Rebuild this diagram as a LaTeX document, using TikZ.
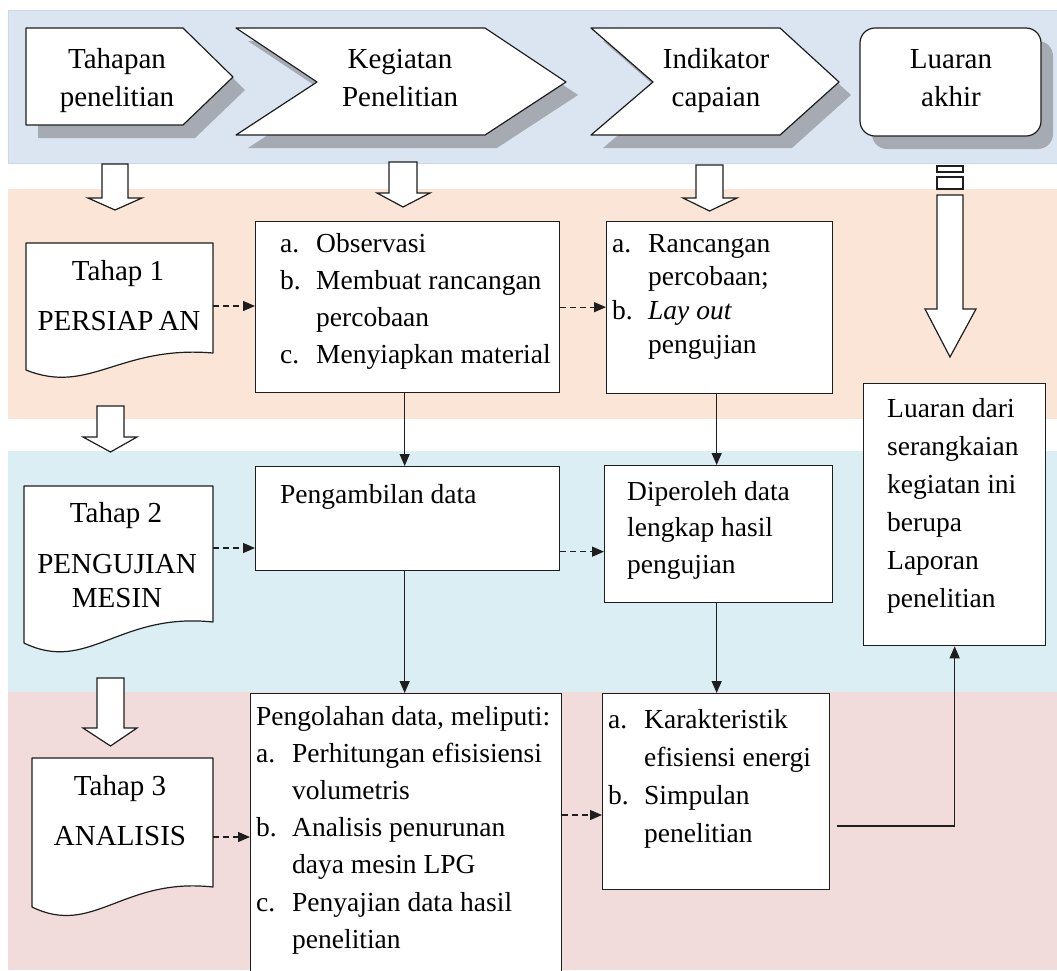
\documentclass[tikz,border=0pt]{standalone}
\usepackage{fontspec}
\setmainfont{LiberationSerif-Regular.ttf}[ItalicFont=LiberationSerif-Italic.ttf, BoldFont=LiberationSerif-Bold.ttf]
\usetikzlibrary{arrows.meta}
\definecolor{hdrband}{RGB}{219,229,241}
\definecolor{hdrline}{RGB}{200,216,238}
\definecolor{peach}{RGB}{251,229,214}
\definecolor{lblue}{RGB}{218,238,243}
\definecolor{pinkband}{RGB}{242,220,219}
\definecolor{shadowc}{RGB}{166,170,178}
\definecolor{ink}{RGB}{30,30,30}
\newcommand\itm[1]{\makebox[36pt][l]{#1}}
\newcommand\bodyfont[1]{\fontsize{27.5}{#1}\selectfont}
\newcommand\headfont[1]{\fontsize{29}{#1}\selectfont}
\begin{document}
\begin{tikzpicture}[x=1pt,y=-1pt,
  shp/.style={draw=ink, line width=1.2pt, fill=white, line join=round},
  shd/.style={fill=shadowc, draw=none},
  box/.style={draw=ink, line width=1.3pt, fill=white, rectangle, inner sep=0pt, anchor=north west},
  txt/.style={inner sep=0pt, text=black},
  arr/.style={draw=ink, line width=1.3pt, -{Triangle[length=12pt,width=10pt]}},
  darr/.style={arr, dash pattern=on 6pt off 4pt},
  blk/.style={draw=ink, line width=1.2pt, fill=white, line join=miter}
]
\fill[white] (0,0) rectangle (1057,970);
\useasboundingbox (0,0) rectangle (1057,970);
\clip (0,0) rectangle (1057,970);
% bands
\fill[hdrband] (8,10) rectangle (1057,163);
\draw[hdrline, line width=1pt] (8,10) rectangle (1062,163);
\fill[peach] (8,189) rectangle (1057,419);
\fill[lblue] (8,451) rectangle (1057,692);
\fill[pinkband] (8,692) rectangle (1057,970);
% header shadows
\begin{scope}[shift={(12,13)}]
\fill[shd] (26,28) -- (183,28) -- (233,77) -- (183,125) -- (26,125) -- cycle;
\fill[shd] (236,28) -- (485,28) -- (566,82) -- (485,135) -- (236,135) -- (317,82) -- cycle;
\fill[shd] (591,28) -- (780,28) -- (839,82) -- (780,135) -- (591,135) -- (653,82) -- cycle;
\fill[shd, rounded corners=15pt] (860,28) rectangle (1041,136);
\end{scope}
% header shapes
\draw[shp] (26,28) -- (183,28) -- (233,77) -- (183,125) -- (26,125) -- cycle;
\draw[shp] (236,28) -- (485,28) -- (566,82) -- (485,135) -- (236,135) -- (317,82) -- cycle;
\draw[shp] (591,28) -- (780,28) -- (839,82) -- (780,135) -- (591,135) -- (653,82) -- cycle;
\draw[shp, rounded corners=15pt] (860,28) rectangle (1041,136);
\node[txt, anchor=base] (H1) at (117,68) {\headfont{38}\begin{tabular}[t]{@{}c@{}}Tahapan\\penelitian\end{tabular}};
\node[txt, anchor=base] (H2) at (400,68) {\headfont{38}\begin{tabular}[t]{@{}c@{}}Kegiatan\\Penelitian\end{tabular}};
\node[txt, anchor=base] (H3) at (716,68) {\headfont{38}\begin{tabular}[t]{@{}c@{}}Indikator\\capaian\end{tabular}};
\node[txt, anchor=base] (H4) at (951,68) {\headfont{38}\begin{tabular}[t]{@{}c@{}}Luaran\\akhir\end{tabular}};
% block arrows
\draw[blk] (102,164) -- (128,164) -- (128,198) -- (142,198) -- (115,210) -- (88,198) -- (102,198) -- cycle;
\draw[blk] (389,162) -- (417,162) -- (417,193) -- (430,193) -- (403,207) -- (377,193) -- (389,193) -- cycle;
\draw[blk] (696,165) -- (723,165) -- (723,198) -- (737,198) -- (709.5,211) -- (683,198) -- (696,198) -- cycle;
\draw[blk] (97,406) -- (124,406) -- (124,437) -- (137,437) -- (110.5,452) -- (83,437) -- (97,437) -- cycle;
\draw[blk] (97,678) -- (124,678) -- (124,728) -- (137,728) -- (110.5,746) -- (83,728) -- (97,728) -- cycle;
\draw[blk] (937,166) rectangle (963,172);
\draw[blk] (937,177) rectangle (963,189);
\draw[blk] (937,195) -- (963,195) -- (963,309) -- (976,309) -- (950,357) -- (925,309) -- (937,309) -- cycle;
% document shapes (Tahap)
\draw[shp] (26,243) -- (213,243) -- (213,353) .. controls (119.5,345) and (89.6,395.5) .. (26,370) -- cycle;
\draw[shp] (24,486) -- (213,486) -- (213,622) .. controls (118.5,612) and (88,674) .. (24,643) -- cycle;
\draw[shp] (32,758) -- (213,758) -- (213,887) .. controls (122.5,877) and (93.5,937) .. (32,907) -- cycle;
\node[txt, anchor=base] (T1a) at (118,280) {\headfont{34}Tahap 1};
\node[txt, anchor=base] (T1b) at (119,330) {\headfont{34}PERSIAP\kern5pt AN};
\node[txt, anchor=base] (T2a) at (116,522) {\headfont{34}Tahap 2};
\node[txt, anchor=base] (T2b) at (117,573) {\headfont{34}\begin{tabular}[t]{@{}c@{}}PENGUJIAN\\MESIN\end{tabular}};
\node[txt, anchor=base] (T3a) at (120,795) {\headfont{34}Tahap 3};
\node[txt, anchor=base] (T3b) at (120,845) {\headfont{34}ANALISIS};
\coordinate (T1e) at (213,306);
\coordinate (T2e) at (213,548);
\coordinate (T3e) at (213,837);
% middle boxes
\node[box, minimum width=304pt, minimum height=171pt] (K1) at (255,221) {};
\node[box, minimum width=304pt, minimum height=104pt] (K2) at (255,466) {};
\node[box, minimum width=311pt, minimum height=300pt] (K3) at (250,693) {};
\node[txt, anchor=base west] (K1t) at (280,252) {\bodyfont{37}\begin{tabular}[t]{@{}l@{}}\itm{a.}Observasi\\\itm{b.}Membuat rancangan\\\itm{}percobaan\\\itm{c.}Menyiapkan material\end{tabular}};
\node[txt, anchor=base west] (K2t) at (280,503) {\bodyfont{37}Pengambilan data};
\node[txt, anchor=base west] (K3t) at (256,725) {\bodyfont{37.2}\begin{tabular}[t]{@{}l@{}}Pengolahan data, meliputi:\\\itm{a.}Perhitungan efisisiensi\\\itm{}volumetris\\\itm{b.}Analisis penurunan\\\itm{}daya mesin LPG\\\itm{c.}Penyajian data hasil\\\itm{}penelitian\end{tabular}};
% indicator boxes
\node[box, minimum width=226pt, minimum height=172pt] (I1) at (606,221) {};
\node[box, minimum width=228pt, minimum height=137pt] (I2) at (604,465) {};
\node[box, minimum width=227pt, minimum height=196pt] (I3) at (602,693) {};
\node[txt, anchor=base west] (I1t) at (612,252) {\bodyfont{33.7}\begin{tabular}[t]{@{}l@{}}\itm{a.}Rancangan\\\itm{}percobaan;\\\itm{b.}\textit{Lay out}\\\itm{}pengujian\end{tabular}};
\node[txt, anchor=base west] (I2t) at (627,500) {\bodyfont{36.5}\begin{tabular}[t]{@{}l@{}}Diperoleh data\\lengkap hasil\\pengujian\end{tabular}};
\node[txt, anchor=base west] (I3t) at (608,728) {\bodyfont{38.3}\begin{tabular}[t]{@{}l@{}}\itm{a.}Karakteristik\\\itm{}efisiensi energi\\\itm{b.}Simpulan\\\itm{}penelitian\end{tabular}};
% final box
\node[box, minimum width=182pt, minimum height=262pt] (L) at (863,383) {};
\node[txt, anchor=base west] (Lt) at (887,417) {\bodyfont{38}\begin{tabular}[t]{@{}l@{}}Luaran dari\\serangkaian\\kegiatan ini\\berupa\\Laporan\\penelitian\end{tabular}};
% connectors
\draw[darr] (T1e) -- (T1e -| K1.west);
\draw[darr] (T2e) -- (T2e -| K2.west);
\draw[darr] (T3e) -- (T3e -| K3.west);
\draw[darr] (K1.east) -- (K1.east -| I1.west);
\coordinate (K2o) at ([yshift=-33pt]K2.east);
\draw[darr] (K2o) -- (K2o -| I2.west);
\coordinate (K3o) at ([yshift=-122pt]K3.north east);
\draw[darr] (K3o) -- (K3o -| I3.west);
\coordinate (K1s) at ([xshift=-3pt]K1.south);
\draw[arr] (K1s) -- (K1s |- K2.north);
\coordinate (K2s) at ([xshift=-3pt]K2.south);
\draw[arr] (K2s) -- (K2s |- K3.north);
\coordinate (I1s) at ([xshift=-3pt]I1.south);
\draw[arr] (I1s) -- (I1s |- I2.north);
\draw[arr] (I1s |- I2.south) -- (I1s |- I3.north);
\coordinate (I3o) at (837,826);
\draw[arr] (I3o) -| (L.south);
\end{tikzpicture}
\end{document}
